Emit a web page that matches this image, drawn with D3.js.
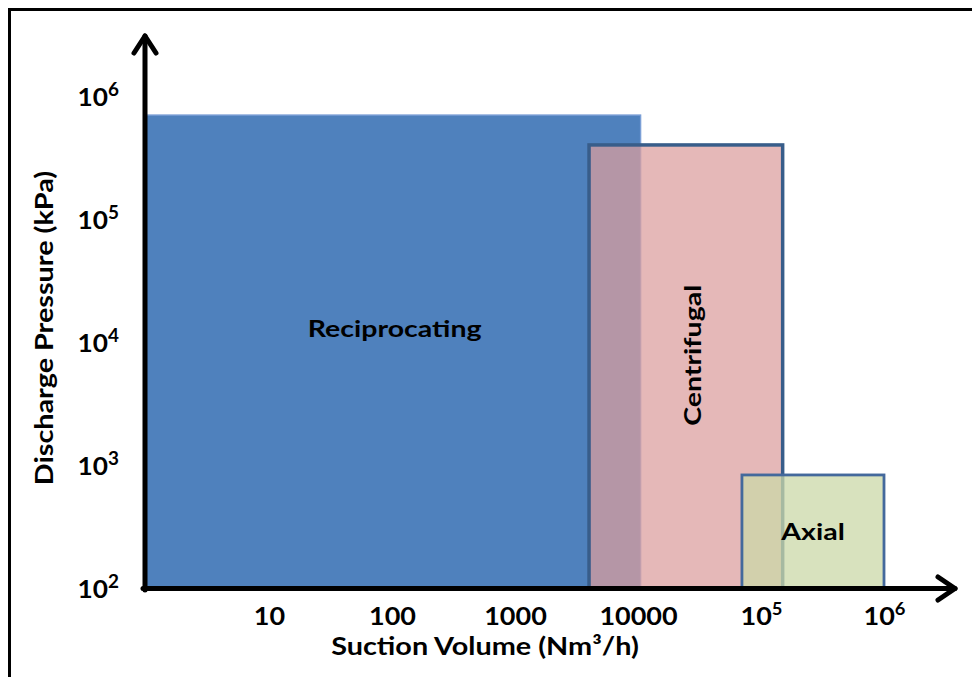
<!DOCTYPE html>
<html>
<head>
<meta charset="utf-8">
<script src="https://cdn.jsdelivr.net/npm/d3@7/dist/d3.min.js"></script>
<style>
  html, body { margin: 0; padding: 0; background: #fff; }
  svg { display: block; }
  text { font-family: Lato, "Open Sans", sans-serif; font-weight: 700; fill: #000; }
</style>
</head>
<body>
<svg id="chart" width="972" height="677"></svg>
<script>
// Compressor application ranges: suction volume vs discharge pressure (log-log)
const compressorTypes = ["Reciprocating", "Centrifugal", "Axial"];
const volumeMin = [1, 4000, 70000];          // Nm³/h
const volumeMax = [10500, 150000, 1000000];  // Nm³/h
const pressureMin = [100, 100, 100];         // kPa
const pressureMax = [700000, 400000, 830];   // kPa
const labelVolume = [105, 27500, 265000];
const labelPressure = [13000, 7800, 290];

const xTickValues = [10, 100, 1000, 10000, 1e5, 1e6];
const xTickBase = ["10", "100", "1000", "10000", "10", "10"];
const xTickSup = ["", "", "", "", "5", "6"];
const yTickValues = [1e2, 1e3, 1e4, 1e5, 1e6];
const yTickBase = ["10", "10", "10", "10", "10"];
const yTickSup = ["2", "3", "4", "5", "6"];

const xTitle = "Suction Volume (Nm³/h)";
const yTitle = "Discharge Pressure (kPa)";

const fills = ["#4f81bd", "rgb(220,157,157)", "rgb(203,216,168)"];
const fillOpacity = [1, 0.73, 0.75];
const strokes = ["#7b9fd6", "#385d8a", "#44699c"];
const strokeWidths = [1.4, 3.5, 2.8];

const svg = d3.select("#chart");

const x = d3.scaleLog().domain([1, 1e6]).range([146, 884]);
const y = d3.scaleLog().domain([100, 1e6]).range([588, 96]);

// outer frame
svg.append("rect")
  .attr("x", 9.5).attr("y", 9.5)
  .attr("width", 1000).attr("height", 720)
  .attr("fill", "none").attr("stroke", "#000").attr("stroke-width", 3);

// range boxes
svg.append("g").selectAll("rect")
  .data(compressorTypes)
  .join("rect")
  .attr("x", (d, i) => x(volumeMin[i]))
  .attr("y", (d, i) => y(pressureMax[i]))
  .attr("width", (d, i) => x(volumeMax[i]) - x(volumeMin[i]))
  .attr("height", (d, i) => y(pressureMin[i]) - y(pressureMax[i]))
  .attr("fill", (d, i) => fills[i])
  .attr("fill-opacity", (d, i) => fillOpacity[i])
  .attr("stroke", (d, i) => strokes[i])
  .attr("stroke-width", (d, i) => strokeWidths[i]);

// box labels (wide bold lettering)
svg.append("g").selectAll("text")
  .data(compressorTypes)
  .join("text")
  .attr("transform", (d, i) => {
    const t = `translate(${x(labelVolume[i])},${y(labelPressure[i])})`;
    return (d === "Centrifugal" ? t + " rotate(-90)" : t) + " scale(1.24,1)";
  })
  .attr("text-anchor", "middle")
  .attr("dominant-baseline", "central")
  .attr("font-size", 23)
  .text(d => d);

// x axis ticks (labels only)
const xAxis = d3.axisBottom(x).tickValues(xTickValues).tickSize(0).tickPadding(0).tickFormat("");
const gx = svg.append("g").attr("transform", "translate(0,588)").call(xAxis);
gx.select(".domain").remove();
gx.selectAll(".tick text").remove();
gx.selectAll(".tick").each(function(d, i) {
  const t = d3.select(this).append("text")
    .attr("transform", "translate(0,37) scale(1.08,1)")
    .attr("text-anchor", "middle")
    .attr("font-size", 25);
  t.append("tspan").text(xTickBase[i]);
  if (xTickSup[i]) t.append("tspan").attr("dy", -10).attr("font-size", 17).text(xTickSup[i]);
});

// y axis ticks (labels only)
const yAxis = d3.axisLeft(y).tickValues(yTickValues).tickSize(0).tickPadding(0).tickFormat("");
const gy = svg.append("g").attr("transform", "translate(146,0)").call(yAxis);
gy.select(".domain").remove();
gy.selectAll(".tick text").remove();
gy.selectAll(".tick").each(function(d, i) {
  const t = d3.select(this).append("text")
    .attr("transform", "translate(-27,9) scale(1.05,1)")
    .attr("text-anchor", "end")
    .attr("font-size", 25);
  t.append("tspan").text(yTickBase[i]);
  t.append("tspan").attr("dy", -10).attr("font-size", 18).text(yTickSup[i]);
});

// axis lines with open arrowheads
const axisLine = d3.line();
const axisStyle = sel => sel.attr("fill", "none").attr("stroke", "#000")
  .attr("stroke-width", 5).attr("stroke-linecap", "round").attr("stroke-linejoin", "round");
svg.append("path").attr("d", axisLine([[145, 590], [145, 36]])).call(axisStyle);
svg.append("path").attr("d", axisLine([[134, 53], [145, 36], [156, 53]])).call(axisStyle);
svg.append("path").attr("d", axisLine([[143, 588.5], [955, 588.5]])).call(axisStyle);
svg.append("path").attr("d", axisLine([[938, 577], [955, 588.5], [938, 600]])).call(axisStyle);

// axis titles
svg.append("text")
  .attr("transform", "translate(485,655) scale(1.2,1)")
  .attr("text-anchor", "middle")
  .attr("font-size", 24)
  .text(xTitle);
svg.append("text")
  .attr("transform", "translate(53,328) rotate(-90) scale(1.2,1)")
  .attr("text-anchor", "middle")
  .attr("font-size", 24)
  .text(yTitle);
</script>
</body>
</html>
